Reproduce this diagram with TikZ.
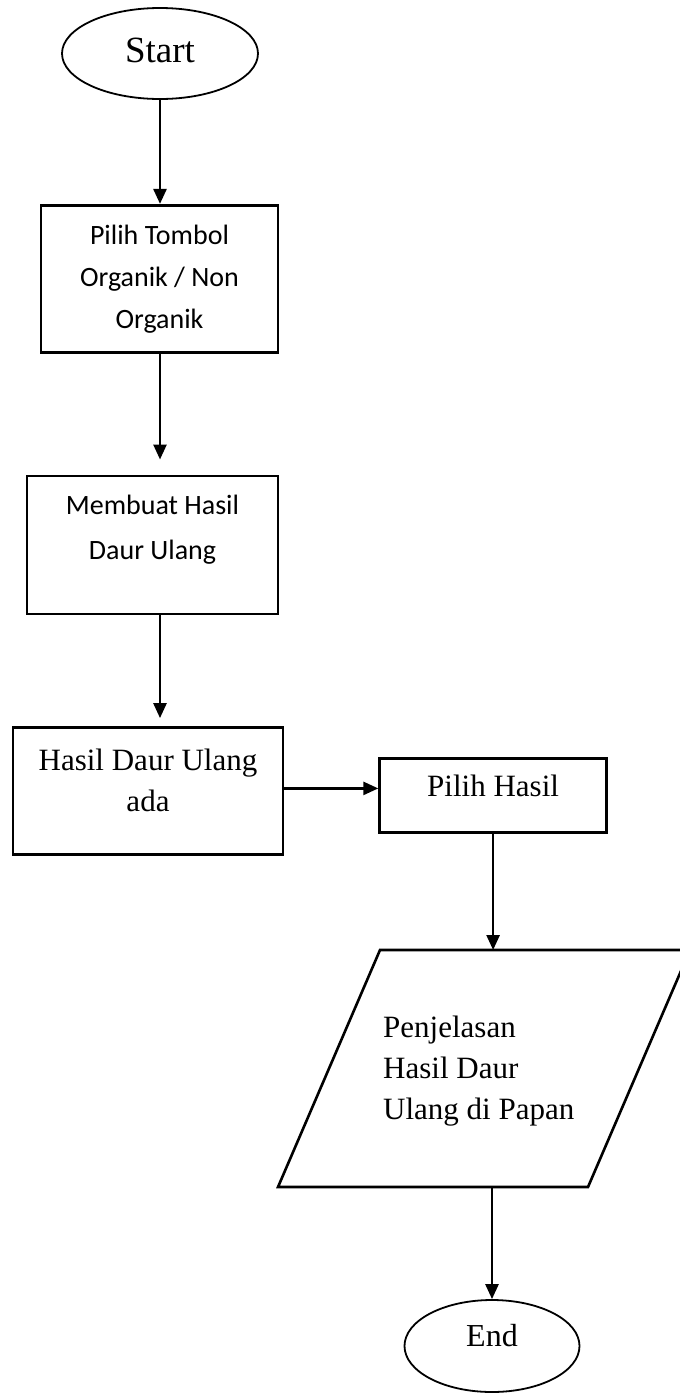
\documentclass[tikz,border=0pt]{standalone}
\usepackage{fontspec}
\setmainfont{Liberation Serif}
\newfontfamily\calibrifont{Carlito}
\usetikzlibrary{positioning,arrows.meta,shapes.geometric}

\begin{document}
\begin{tikzpicture}[
    x=1pt,y=-1pt,
    terminal/.style={ellipse,draw=black,line width=1.8pt,inner sep=0pt},
    process/.style={rectangle,draw=black,line width=2.6pt,align=center,inner sep=2pt},
    sanstext/.style={font=\calibrifont\fontsize{28}{42}\selectfont},
    seriftext/.style={font=\fontsize{31}{41}\selectfont},
    arrow/.style={-{Triangle[length=15pt,width=13pt]},line width=2.6pt}
]
\useasboundingbox (0,0) rectangle (680,1393);

\node[terminal,minimum width=196pt,minimum height=91pt,font=\fontsize{37}{40}\selectfont,text depth=6pt] (start) at (160,53.5) {Start};
\node[process,sanstext,minimum width=237pt,minimum height=147pt,below=104pt of start,xshift=-0.5pt] (pilih) {Pilih Tombol\\Organik / Non\\Organik};
\node[process,font=\calibrifont\fontsize{28}{45}\selectfont,minimum width=251pt,minimum height=138pt,below=121pt of pilih,xshift=-7pt,text depth=36pt] (buat) {Membuat Hasil\\Daur Ulang};
\node[process,seriftext,minimum width=270pt,minimum height=127pt,below=111pt of buat,xshift=-4.5pt,text depth=22pt] (ada) {Hasil Daur Ulang\\ada};
\node[process,seriftext,minimum width=227pt,minimum height=74pt,right=94pt of ada,yshift=-4.5pt,text depth=20pt] (hasil) {Pilih Hasil};

% parallelogram (output)
\coordinate (pa) at (380,950);
\coordinate (pb) at (690,950);
\coordinate (pc) at (588,1187);
\coordinate (pd) at (278,1187);
\draw[line width=2.6pt] (pa) -- (pb) -- (pc) -- (pd) -- cycle;
\node[seriftext,align=left,anchor=west,inner sep=0pt] (papan) at (383,1071) {Penjelasan\\Hasil Daur\\Ulang di Papan};

\node[terminal,minimum width=175pt,minimum height=92pt,font=\fontsize{32}{36}\selectfont,text depth=22pt] (stop) at (492,1346) {End};

\draw[arrow] (start) -- (pilih.north -| start);
\draw[arrow] (pilih.south -| start) -- ([yshift=15pt]buat.north -| start);
\draw[arrow] (buat.south -| start) -- ([yshift=8pt]ada.north -| start);
\draw[arrow] ([yshift=2.5pt]ada.east) -- ([yshift=2.5pt]ada.east -| hasil.west);
\draw[arrow] (hasil) -- (hasil |- pa);
\draw[arrow] (stop |- pd) -- (stop);

\end{tikzpicture}
\end{document}
